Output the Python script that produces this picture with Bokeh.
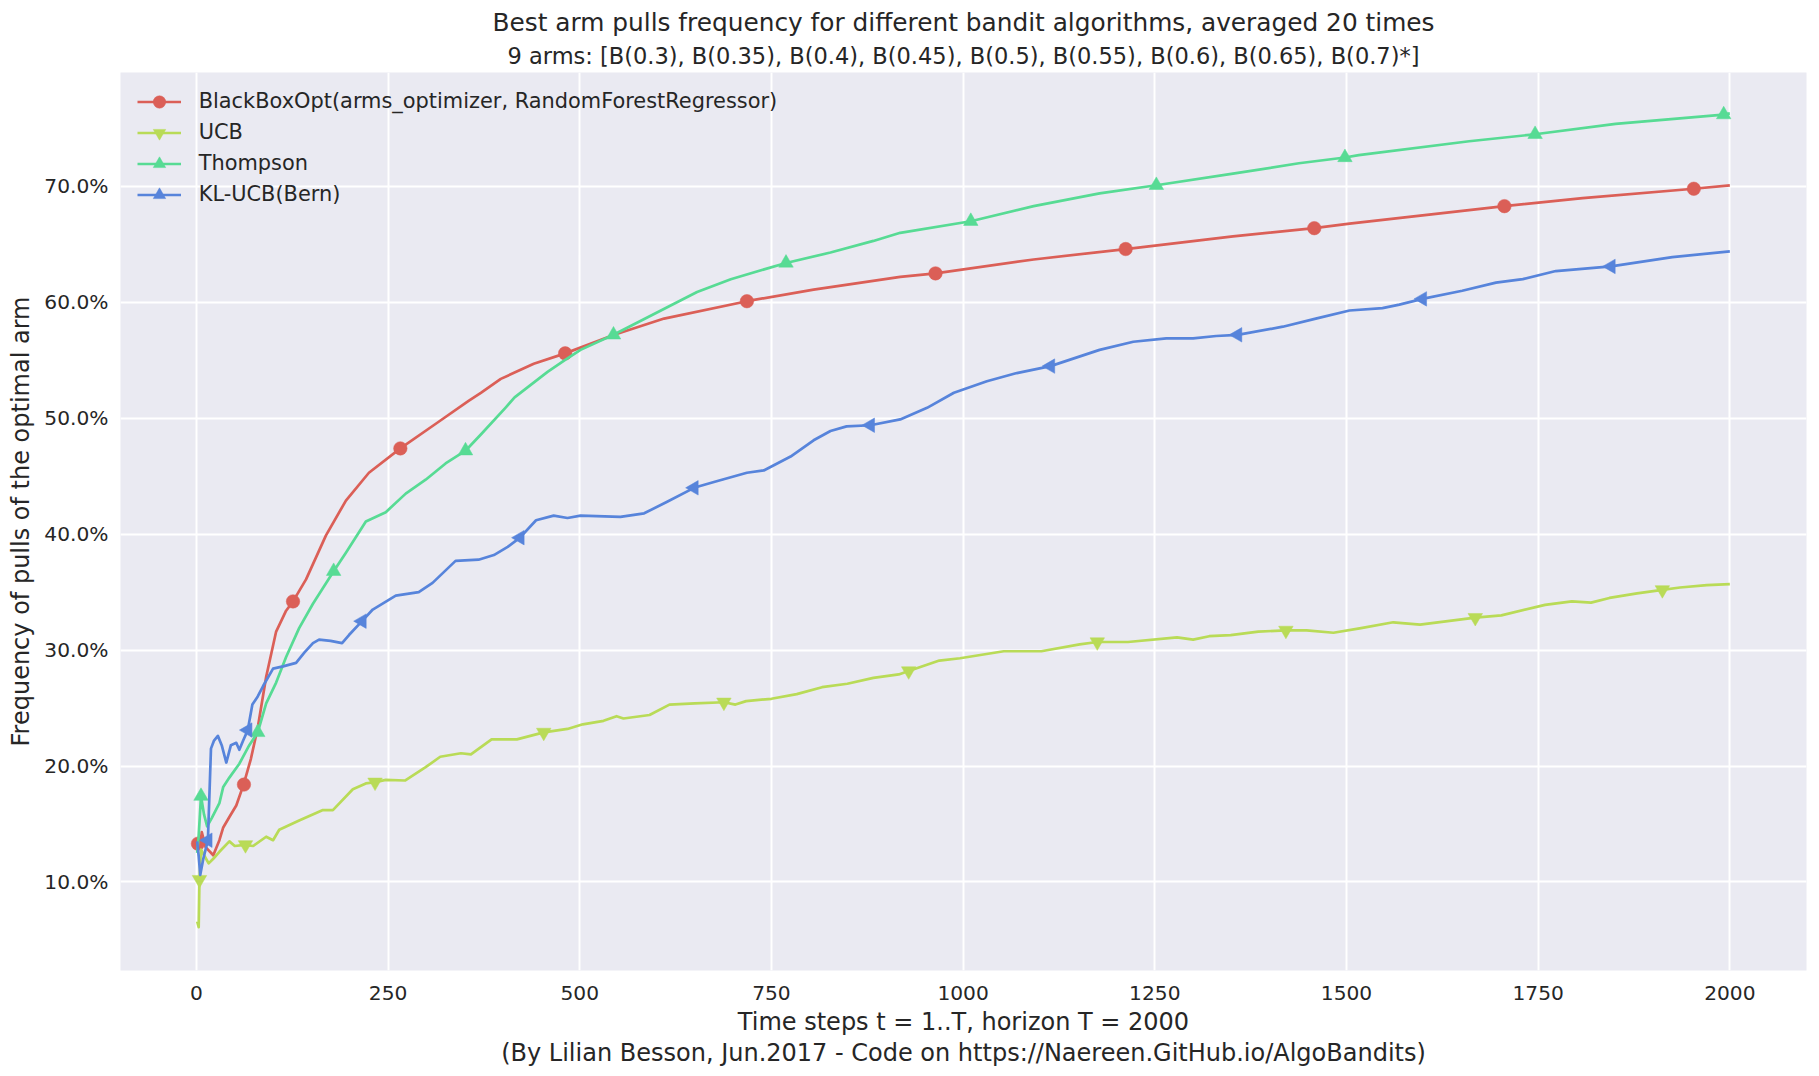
from bokeh.plotting import figure
from bokeh.models import (Range1d, Title, Legend, LegendItem, PrintfTickFormatter,
                          FixedTicker)
from bokeh.embed import file_html
from bokeh.resources import INLINE
import math

# ---------------- data ----------------
names = ["BlackBoxOpt(arms_optimizer, RandomForestRegressor)", "UCB", "Thompson", "KL-UCB(Bern)"]
colors = ["#DB5F57", "#B9DB57", "#57DB94", "#5784DB"]

bbo_t = [1, 5, 7, 12, 22, 30, 35, 43, 52, 61.5, 71, 80, 91, 104, 117, 126, 143, 169, 195, 225,
         266, 316, 355, 371, 397, 440, 481, 545, 610, 718, 805, 918, 964, 1092, 1212, 1352,
         1458, 1504, 1706, 1808, 1953, 2000]
bbo_v = [13.3, 13.2, 14.3, 13.0, 12.3, 13.6, 14.7, 15.6, 16.6, 18.4, 20.6, 23.3, 27.7, 31.6,
         33.4, 34.2, 36.1, 39.9, 42.9, 45.3, 47.4, 49.7, 51.5, 52.2, 53.4, 54.7, 55.6, 57.2,
         58.6, 60.1, 61.1, 62.2, 62.5, 63.7, 64.6, 65.7, 66.4, 66.8, 68.3, 69.0, 69.8, 70.1]
bbo_mk_t = [2, 62, 126, 266, 481, 718, 964, 1212, 1458, 1706, 1953]
bbo_mk_v = [13.3, 18.4, 34.2, 47.4, 55.6, 60.1, 62.5, 64.6, 66.4, 68.3, 69.8]

ucb_t = [1, 3, 4, 6, 10, 16, 22, 30, 43, 50, 63, 74, 91, 100, 108, 134, 165, 178, 204, 221,
         233, 247, 272, 299, 318, 345, 358, 385, 418, 453, 484, 504, 531, 548, 557, 591, 617,
         650, 688, 703, 717, 750, 783, 816, 849, 883, 916, 929, 969, 996, 1053, 1102, 1152,
         1175, 1215, 1279, 1300, 1321, 1349, 1385, 1421, 1448, 1483, 1519, 1561, 1596, 1632,
         1668, 1702, 1759, 1794, 1819, 1843, 1879, 1912, 1935, 1970, 2000]
ucb_v = [6.6, 6.1, 10.2, 12.8, 12.3, 11.6, 12.0, 12.6, 13.5, 13.1, 13.2, 13.1, 13.9, 13.6,
         14.5, 15.3, 16.2, 16.2, 18.0, 18.5, 18.6, 18.8, 18.75, 19.9, 20.8, 21.1, 21.0, 22.3,
         22.3, 22.9, 23.2, 23.6, 23.9, 24.3, 24.1, 24.4, 25.3, 25.4, 25.5, 25.3, 25.6, 25.8,
         26.2, 26.8, 27.1, 27.6, 27.9, 28.2, 29.1, 29.3, 29.9, 29.9, 30.5, 30.7, 30.7, 31.1,
         30.9, 31.2, 31.3, 31.6, 31.7, 31.7, 31.5, 31.9, 32.4, 32.2, 32.5, 32.8, 33.0, 33.9,
         34.2, 34.1, 34.5, 34.9, 35.2, 35.4, 35.6, 35.7]
ucb_mk_t = [4, 64, 233, 453, 688, 929, 1175, 1421, 1668, 1912]
ucb_mk_v = [10.2, 13.2, 18.6, 22.9, 25.5, 28.2, 30.7, 31.7, 32.8, 35.2]

ts_t = [1, 3, 6, 10, 14, 20, 30, 35, 43, 56, 69, 80, 91, 104, 117, 134, 152, 179, 195, 221,
        247, 273, 299, 325, 351, 371, 403, 415, 458, 480, 501, 544, 588, 653, 697, 769, 827,
        883, 918, 1010, 1092, 1178, 1252, 1352, 1438, 1498, 1516, 1660, 1746, 1851, 1992, 2000]
ts_v = [12.5, 14.0, 17.4, 15.8, 14.8, 15.5, 16.8, 18.2, 19.0, 20.2, 21.8, 22.9, 25.4, 27.2,
        29.4, 31.9, 34.0, 36.8, 38.4, 41.1, 41.9, 43.5, 44.7, 46.1, 47.2, 48.6, 50.9, 51.8,
        54.0, 55.0, 55.9, 57.2, 58.7, 60.9, 62.0, 63.4, 64.3, 65.3, 66.0, 67.0, 68.3, 69.4,
        70.1, 71.1, 72.0, 72.5, 72.7, 73.9, 74.5, 75.4, 76.2, 76.3]
ts_mk_t = [6, 80, 179, 351, 544, 769, 1010, 1252, 1498, 1746, 1992]
ts_mk_v = [17.4, 22.9, 36.8, 47.2, 57.2, 63.4, 67.0, 70.1, 72.5, 74.5, 76.2]

kl_t = [1, 3, 5, 9, 15, 19, 23, 28, 33, 39, 45, 52, 56, 61, 67, 73, 80, 87, 100, 113, 130,
        141, 152, 160, 175, 190, 199, 216, 230, 260, 290, 308, 338, 368, 388, 406, 422, 443,
        466, 484, 501, 553, 584, 614, 649, 675, 718, 740, 775, 805, 827, 848, 879, 918, 953,
        988, 1031, 1070, 1114, 1178, 1222, 1265, 1300, 1330, 1358, 1417, 1460, 1504, 1547,
        1569, 1599, 1651, 1695, 1730, 1773, 1845, 1925, 2000]
kl_v = [13.5, 12.2, 10.6, 12.0, 13.6, 21.5, 22.2, 22.6, 21.8, 20.3, 21.8, 22.0, 21.4, 22.2,
        23.1, 25.3, 26.0, 26.9, 28.4, 28.6, 28.9, 29.8, 30.6, 30.9, 30.8, 30.6, 31.3, 32.5,
        33.5, 34.7, 35.0, 35.8, 37.7, 37.8, 38.2, 38.9, 39.7, 41.2, 41.6, 41.4, 41.6, 41.5,
        41.8, 42.8, 44.0, 44.5, 45.3, 45.5, 46.7, 48.1, 48.9, 49.3, 49.4, 49.9, 50.9, 52.2,
        53.2, 53.9, 54.5, 55.9, 56.6, 56.9, 56.9, 57.1, 57.2, 57.9, 58.6, 59.3, 59.5, 59.8,
        60.3, 61.0, 61.7, 62.0, 62.7, 63.1, 63.9, 64.4]
kl_mk_t = [15, 67, 216, 422, 649, 879, 1114, 1358, 1599, 1845]
kl_mk_v = [13.6, 23.1, 32.5, 39.7, 44.0, 49.4, 54.5, 57.2, 60.3, 63.1]

x_ticks = [0, 250, 500, 750, 1000, 1250, 1500, 1750, 2000]
y_ticks = [10, 20, 30, 40, 50, 60, 70]

title1 = "Best arm pulls frequency for different bandit algorithms, averaged 20 times"
title2 = ("9 arms: [B(0.3), B(0.35), B(0.4), B(0.45), B(0.5), B(0.55), B(0.6), "
          "B(0.65), B(0.7)*]")
xlabel = "Time steps t = 1..T, horizon T = 2000"
xlabel2 = "(By Lilian Besson, Jun.2017 - Code on https://Naereen.GitHub.io/AlgoBandits)"
ylabel = "Frequency of pulls of the optimal arm"

# ---------------- figure ----------------
FONT = "DejaVu Sans"
TXT = "#262626"
W, H = 1819, 1076
MT, MB, ML, MR = 72, 106, 120, 13

p = figure(width=W, height=H, output_backend="svg", toolbar_location=None,
           x_range=Range1d(-99, 2100), y_range=Range1d(2.36, 79.83),
           min_border_left=ML, min_border_right=MR, min_border_top=MT, min_border_bottom=MB)
p.title.text = title1
p.title.align = "center"
p.title.text_font = FONT
p.title.text_font_size = "24.8px"
p.title.text_font_style = "normal"
p.title.text_color = TXT
p.title.standoff = 0
p.title.offset = 0

sub = Title(text=title2, align="center", text_font=FONT, text_font_size="22.5px",
            text_font_style="normal", text_color=TXT, standoff=8)
p.add_layout(sub, "above")

p.background_fill_color = "#EAEAF2"
p.border_fill_color = "white"
p.outline_line_color = None
p.grid.grid_line_color = "white"
p.grid.grid_line_width = 2

for ax in (p.xaxis[0], p.yaxis[0]):
    ax.axis_line_color = None
    ax.major_tick_line_color = None
    ax.minor_tick_line_color = None
    ax.major_tick_out = 0
    ax.major_tick_in = 0
    ax.major_label_text_font = FONT
    ax.major_label_text_font_size = "20.2px"
    ax.major_label_text_color = TXT
    ax.axis_label_text_font = FONT
    ax.axis_label_text_font_size = "24px"
    ax.axis_label_text_font_style = "normal"
    ax.axis_label_text_color = TXT

p.xaxis[0].ticker = FixedTicker(ticks=x_ticks)
p.yaxis[0].ticker = FixedTicker(ticks=y_ticks)
p.yaxis[0].formatter = PrintfTickFormatter(format="%.1f%%")
p.xaxis[0].axis_label = xlabel
p.yaxis[0].axis_label = ylabel
p.xaxis[0].major_label_standoff = 15
p.yaxis[0].major_label_standoff = 12
p.xaxis[0].axis_label_standoff = 5
p.yaxis[0].axis_label_standoff = 6

credit = Title(text=xlabel2, align="center", text_font=FONT, text_font_size="24px",
               text_font_style="normal", text_color=TXT, standoff=-3)
p.add_layout(credit, "below")

series = [
    (bbo_t, bbo_v, bbo_mk_t, bbo_mk_v, "circle", 0.0, 13.5),
    (ucb_t, ucb_v, ucb_mk_t, ucb_mk_v, "inverted_triangle", 0.0, 14.5),
    (ts_t, ts_v, ts_mk_t, ts_mk_v, "triangle", 0.0, 14.5),
    (kl_t, kl_v, kl_mk_t, kl_mk_v, "triangle", math.pi / 2, 14.5),
]

items = []
for (t, v, mt, mv, marker, ang, sz), name, col in zip(series, names, colors):
    ln = p.line(t, v, line_color=col, line_width=2.7, line_join="round")
    sc = p.scatter(mt, mv, marker=marker, angle=ang, size=sz, fill_color=col,
                   line_color=col, line_width=0.5)
    items.append(LegendItem(label=name, renderers=[ln, sc]))

frame_h = H - MT - MB
pad = 10
glyph_h = 31
leg_h = 2 * pad + 4 * glyph_h
top_off = -6.2
legend = Legend(items=items, location=(16.7, frame_h - top_off - leg_h),
                padding=pad, margin=0, spacing=0, glyph_height=glyph_h, glyph_width=44,
                label_standoff=18, label_text_font=FONT, label_text_font_size="20.9px",
                label_text_color=TXT, background_fill_alpha=0, border_line_color=None,
                label_height=20)
p.add_layout(legend, "center")

open("out.html", "w").write(file_html(p, INLINE))
